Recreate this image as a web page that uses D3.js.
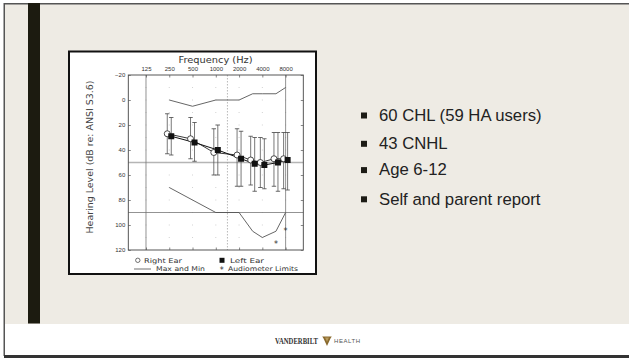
<!DOCTYPE html>
<html><head><meta charset="utf-8">
<script src="https://cdn.jsdelivr.net/npm/d3@7"></script>
<style>
html,body{margin:0;padding:0;background:#fff;}
svg{display:block;}
</style></head>
<body>
<script>
// ---- data ----
const tickFreqs = [125, 250, 500, 1000, 2000, 4000, 8000];
const yTicks = [-20, 0, 20, 40, 60, 80, 100, 120];
const freqs = [250, 500, 1000, 2000, 3000, 4000, 6000, 8000];
const rightEar = [27, 31, 42, 44, 48, 50, 47, 47];
const leftEar = [29, 34, 40, 47, 51, 52, 50, 48];
const rightLow = [11, 14, 23, 23, 29, 30, 26, 26];
const rightHigh = [43, 47, 60, 69, 68, 70, 69, 71];
const leftLow = [14, 18, 20, 25, 30, 31, 26, 26];
const leftHigh = [44, 49, 60, 69, 73, 71, 73, 72];
const maxVals = [0, 5, 0, 0, -5, -5, -5, -10];
const minVals = [70, 80, 90, 90, 105, 110, 105, 90];
const limitFreqs = [6000, 8000];
const limitVals = [115, 105];
const refLevels = [50, 90];
const bullets = ["60 CHL (59 HA users)", "43 CNHL", "Age 6-12", "Self and parent report"];

const W = 629, H = 358;
const svg = d3.select("body").append("svg").attr("width", W).attr("height", H);

// ---- slide frame ----
svg.append("rect").attr("x", 0).attr("y", 0).attr("width", W).attr("height", H).attr("fill", "#fff");
svg.append("rect").attr("x", 4.5).attr("y", 4).attr("width", W + 10).attr("height", 320).attr("fill", "#eeebe4");
svg.append("line").attr("x1", 4).attr("x2", W).attr("y1", 3.75).attr("y2", 3.75).attr("stroke", "#555").attr("stroke-width", 1.5);
svg.append("line").attr("x1", 4.25).attr("x2", 4.25).attr("y1", 3).attr("y2", 356).attr("stroke", "#555").attr("stroke-width", 1.5);
svg.append("rect").attr("x", 4).attr("y", 355).attr("width", W).attr("height", 3).attr("fill", "#333");
svg.append("rect").attr("x", 28).attr("y", 3).attr("width", 12).attr("height", 320.5).attr("fill", "#1c1b10");

// ---- chart image box ----
svg.append("rect").attr("x", 69).attr("y", 51.5).attr("width", 247).attr("height", 222.5)
  .attr("fill", "#fff").attr("stroke", "#111").attr("stroke-width", 2);

const x = d3.scaleLog().base(2).domain([125 / Math.pow(2, 0.76), 8000 * Math.pow(2, 0.76)]).range([128.3, 303.3]);
const y = d3.scaleLinear().domain([-20, 120]).range([75, 250]);
const xr = x.range(), yr = y.range();
const px0 = xr[0], px1 = xr[1], py0 = yr[0], py1 = yr[1];

const g = svg.append("g");

// dotted grid
const gridY = d3.range(-10, 120, 10);
tickFreqs.forEach(f => {
  gridY.forEach(v => {
    g.append("rect").attr("x", x(f) - 0.5).attr("y", y(v) - 0.5).attr("width", 1).attr("height", 1).attr("fill", "#d2d2d2");
  });
});

// reference horizontal lines
g.append("line").attr("x1", px0).attr("x2", px1).attr("y1", y(refLevels[0])).attr("y2", y(refLevels[0]))
  .attr("stroke", "#b5b5b5").attr("stroke-width", 1.3);
g.append("line").attr("x1", px0).attr("x2", px1).attr("y1", y(refLevels[1])).attr("y2", y(refLevels[1]))
  .attr("stroke", "#777").attr("stroke-width", 0.8);
// vertical lines at 125 and 8000, dashed at 1414
[tickFreqs[0], tickFreqs[tickFreqs.length - 1]].forEach(f => {
  g.append("line").attr("x1", x(f)).attr("x2", x(f)).attr("y1", py0).attr("y2", py1).attr("stroke", "#777").attr("stroke-width", 0.8);
});
g.append("line").attr("x1", x(1414)).attr("x2", x(1414)).attr("y1", py0).attr("y2", py1)
  .attr("stroke", "#999").attr("stroke-width", 0.7).attr("stroke-dasharray", "1.5,1.5");

// plot frame
g.append("rect").attr("x", px0).attr("y", py0).attr("width", px1 - px0).attr("height", py1 - py0)
  .attr("fill", "none").attr("stroke", "#444").attr("stroke-width", 0.9);

// axes
const tickFont = "Liberation Sans, Arial, sans-serif";
const axTop = g.append("g").attr("transform", `translate(0,${py0})`)
  .call(d3.axisTop(x).tickValues(tickFreqs).tickFormat(d3.format("d")).tickSize(-2.5).tickPadding(4));
const axBot = g.append("g").attr("transform", `translate(0,${py1})`)
  .call(d3.axisBottom(x).tickValues(tickFreqs).tickFormat("").tickSize(-2.5));
const axLeft = g.append("g").attr("transform", `translate(${px0},0)`)
  .call(d3.axisLeft(y).tickValues(yTicks).tickFormat(d3.format("d")).tickSize(-2.5).tickPadding(3));
const axRight = g.append("g").attr("transform", `translate(${px1},0)`)
  .call(d3.axisRight(y).tickValues(yTicks).tickFormat("").tickSize(-2.5));
[axTop, axBot, axLeft, axRight].forEach(a => {
  a.select(".domain").remove();
  a.selectAll(".tick line").attr("stroke", "#555").attr("stroke-width", 0.7);
  a.selectAll("text").attr("font-family", tickFont).attr("font-size", 6).attr("fill", "#333");
});
axLeft.selectAll("text").text(d => d < 0 ? "\u2212" + Math.abs(d) : d);

// axis titles
const chartFont = "DejaVu Sans, sans-serif";
svg.append("text").attr("x", 215.5).attr("y", 63).attr("text-anchor", "middle")
  .attr("font-family", chartFont).attr("font-size", 8.5).attr("fill", "#333")
  .attr("textLength", 74).attr("lengthAdjust", "spacingAndGlyphs").text("Frequency (Hz)");
svg.append("text").attr("transform", "translate(93,157) rotate(-90)").attr("text-anchor", "middle")
  .attr("font-family", chartFont).attr("font-size", 8.2).attr("fill", "#444")
  .attr("textLength", 153).attr("lengthAdjust", "spacingAndGlyphs").text("Hearing Level (dB re: ANSI S3.6)");

// max and min lines
const line = d3.line().x(d => x(d[0])).y(d => y(d[1]));
g.append("path").attr("d", line(freqs.map((f, i) => [f, maxVals[i]])))
  .attr("fill", "none").attr("stroke", "#555").attr("stroke-width", 0.9);
g.append("path").attr("d", line(freqs.map((f, i) => [f, minVals[i]])))
  .attr("fill", "none").attr("stroke", "#555").attr("stroke-width", 0.9);

// error bars
const off = 2;
function errBars(lo, hi, dx) {
  freqs.forEach((f, i) => {
    const cx = x(f) + dx;
    g.append("line").attr("x1", cx).attr("x2", cx).attr("y1", y(lo[i])).attr("y2", y(hi[i]))
      .attr("stroke", "#555").attr("stroke-width", 0.8);
    [lo[i], hi[i]].forEach(v => {
      g.append("line").attr("x1", cx - 2.2).attr("x2", cx + 2.2).attr("y1", y(v)).attr("y2", y(v))
        .attr("stroke", "#444").attr("stroke-width", 0.8);
    });
  });
}
errBars(rightLow, rightHigh, -off);
errBars(leftLow, leftHigh, off);

// connecting lines
const lineR = d3.line().x((d, i) => x(freqs[i]) - off).y(d => y(d));
const lineL = d3.line().x((d, i) => x(freqs[i]) + off).y(d => y(d));
g.append("path").attr("d", lineR(rightEar)).attr("fill", "none").attr("stroke", "#222").attr("stroke-width", 0.9);
g.append("path").attr("d", lineL(leftEar)).attr("fill", "none").attr("stroke", "#111").attr("stroke-width", 1);

// markers
g.selectAll(".re").data(rightEar).join("circle")
  .attr("cx", (d, i) => x(freqs[i]) - off).attr("cy", d => y(d)).attr("r", 3)
  .attr("fill", "#fff").attr("stroke", "#222").attr("stroke-width", 0.8);
g.selectAll(".le").data(leftEar).join("rect")
  .attr("x", (d, i) => x(freqs[i]) + off - 3).attr("y", d => y(d) - 3).attr("width", 6).attr("height", 6)
  .attr("fill", "#111");

// audiometer limits
limitFreqs.forEach((f, i) => {
  g.append("text").attr("x", x(f)).attr("y", y(limitVals[i]) + 3.2).attr("text-anchor", "middle")
    .attr("font-family", chartFont).attr("font-size", 8).attr("fill", "#333").text("*");
});

// legend
const leg = svg.append("g").attr("font-family", chartFont).attr("font-size", 6.5).attr("fill", "#333");
leg.append("circle").attr("cx", 137.8).attr("cy", 260.3).attr("r", 2.2).attr("fill", "none").attr("stroke", "#333").attr("stroke-width", 0.7);
leg.append("text").attr("x", 144).attr("y", 262.7).attr("textLength", 38).attr("lengthAdjust", "spacingAndGlyphs").text("Right Ear");
leg.append("line").attr("x1", 134).attr("x2", 151).attr("y1", 269).attr("y2", 269).attr("stroke", "#333").attr("stroke-width", 0.7);
leg.append("text").attr("x", 156).attr("y", 271.3).attr("textLength", 49).attr("lengthAdjust", "spacingAndGlyphs").text("Max and Min");
leg.append("rect").attr("x", 219.5).attr("y", 257.8).attr("width", 5).attr("height", 5).attr("fill", "#111");
leg.append("text").attr("x", 230).attr("y", 262.7).attr("textLength", 34).attr("lengthAdjust", "spacingAndGlyphs").text("Left Ear");
leg.append("text").attr("x", 221.8).attr("y", 273.3).attr("text-anchor", "middle").attr("font-size", 8).text("*");
leg.append("text").attr("x", 228).attr("y", 271.3).attr("textLength", 70).attr("lengthAdjust", "spacingAndGlyphs").text("Audiometer Limits");

// bullets
const baselines = [120.7, 149, 175.3, 204.5];
bullets.forEach((t, i) => {
  svg.append("rect").attr("x", 361).attr("y", baselines[i] - 8.2).attr("width", 6).attr("height", 6).attr("fill", "#1c1b15");
  svg.append("text").attr("x", 379).attr("y", baselines[i])
    .attr("font-family", "Liberation Sans, Arial, sans-serif").attr("font-size", 16.7).attr("fill", "#222").text(t);
});

// footer
svg.append("text").attr("x", 275).attr("y", 343.5).attr("font-family", "Liberation Serif, serif").attr("font-weight", "bold")
  .attr("font-size", 7.5).attr("fill", "#333").attr("textLength", 43).attr("lengthAdjust", "spacingAndGlyphs").text("VANDERBILT");
svg.append("path").attr("d", "M322.2,336.6 L331.8,336.6 L330.6,338.2 L327,346 L323.4,338.2 Z").attr("fill", "#8a6a2e");
svg.append("path").attr("d", "M325,337.6 L329,337.6 L327,342 Z").attr("fill", "#b89a5c");
svg.append("text").attr("x", 334).attr("y", 343.2).attr("font-family", "Liberation Sans, Arial, sans-serif")
  .attr("font-size", 6).attr("fill", "#555").attr("textLength", 26).attr("lengthAdjust", "spacing").text("HEALTH");
</script>
</body></html>
